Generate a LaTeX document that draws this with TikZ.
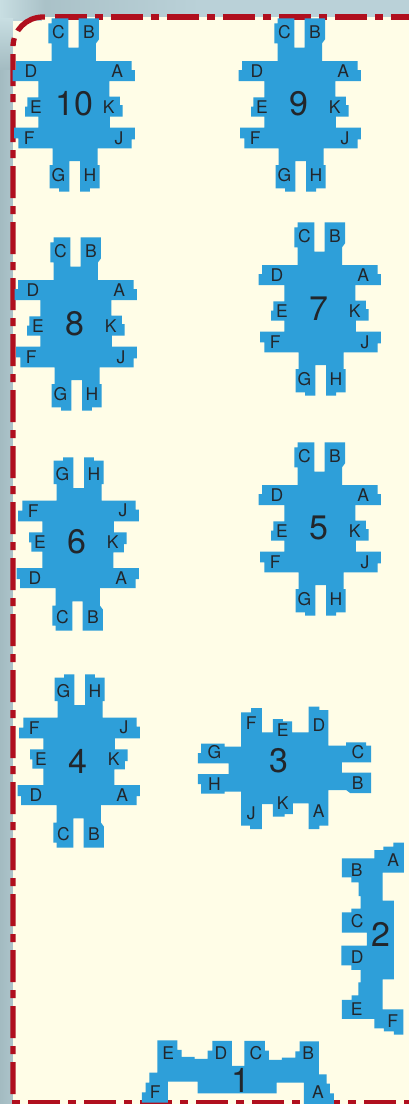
\documentclass[tikz,border=0pt]{standalone}
\usepackage{fontspec}
\setmainfont{TeX Gyre Heros}
\definecolor{tablecolor}{HTML}{2E9FD9}
\definecolor{floorcolor}{HTML}{FFFDE7}
\definecolor{wallcolor}{HTML}{B00F1E}
\definecolor{textcolor}{HTML}{22262B}
\definecolor{outercolor}{HTML}{BAD1D8}
\definecolor{outerdark}{HTML}{A3BBC1}
\definecolor{outerlight}{HTML}{C8DEE2}
\tikzset{
    tableshape/.style={fill=tablecolor, draw=none},
    seat/.style={inner sep=0pt, text=textcolor, font=\fontsize{17.5}{17.5}\selectfont},
    tablenum/.style={inner sep=0pt, text=textcolor, font=\fontsize{34}{34}\selectfont},
    wall/.style={draw=wallcolor, line width=5.3pt, dash pattern=on 32pt off 8pt on 8pt off 8pt},
}
% one table with ten seats: name, centre, how it is turned
\newcommand{\tennertable}[3]{
    \begin{scope}[shift={(#2)}, #3, x=0.3333pt, y=-0.3333pt]
        \fill[tableshape] (-77,-185) -- (-77,-245) -- (-67,-245) -- (-67,-260) -- (-17,-260) -- (-17,-172)
            -- (14,-172) -- (14,-260) -- (75,-260) -- (75,-197) -- (66,-185) -- (66,-132)
            -- (173,-132) -- (173,-105) -- (183,-105) -- (183,-72) -- (106,-72)
            -- (106,-25) -- (138,-25) -- (138,0) -- (146,0) -- (146,35) -- (108,35) -- (108,68)
            -- (183,68) -- (183,103) -- (173,103) -- (173,130) -- (71,130) -- (71,180)
            -- (77,180) -- (77,250) -- (48,250) -- (48,260) -- (18,260) -- (18,168)
            -- (-14,168) -- (-14,260) -- (-45,260) -- (-45,250) -- (-73,250) -- (-73,180) -- (-64,180) -- (-64,130)
            -- (-167,130) -- (-167,100) -- (-180,100) -- (-180,68) -- (-107,68)
            -- (-107,35) -- (-147,35) -- (-147,5) -- (-140,5) -- (-140,-23) -- (-107,-23) -- (-107,-72)
            -- (-184,-72) -- (-184,-105) -- (-174,-105) -- (-174,-132) -- (-67,-132) -- (-67,-185) -- cycle;
        \foreach \seatname/\seatx/\seaty in {A/130/-103, B/45/-220, C/-47/-220, D/-129/-103, E/-114/5,
            F/-134/100, G/-47/210, H/48/210, J/135/100, K/104/5}
            \node[seat] (#1\seatname) at (\seatx,\seaty) {\seatname};
    \end{scope}
}
\begin{document}
\begin{tikzpicture}[x=1pt, y=-1pt]
    \useasboundingbox (0,0) rectangle (409,1104);
    % outside of the room
    \fill[outercolor] (0,0) rectangle (409,1104);
    \shade[left color=outerlight, right color=outerdark!70!outercolor] (0,0) rectangle (45,18);
    \shade[left color=outerdark!70!outercolor, right color=outercolor] (45,0) rectangle (200,18);
    \shade[top color=outerlight, bottom color=outerdark] (0,18) rectangle (13,70);
    \shade[left color=outerdark, right color=outerdark!60!outercolor] (0,70) rectangle (13,1104);
    % floor
    \fill[floorcolor] (13,21) -- (42,21) -- (42,17) -- (409,17) -- (409,1104) -- (13,1104) -- cycle;
    % wall
    \draw[wall] (13,1094) -- (13,47) .. controls (13,30.4) and (26.4,17) .. (43,17) -- (47,17);
    \draw[wall] (55,17) -- (409,17);
    \draw[wall, dash phase=40pt] (12,1103) -- (409,1103);
    % tables
    \tennertable{ten}{74,105}{}
    \tennertable{nine}{300,105}{}
    \tennertable{eight}{76,324}{}
    \tennertable{seven}{320,309}{}
    \tennertable{six}{78,544}{yscale=-1}
    \tennertable{five}{320,529}{}
    \tennertable{four}{79,761}{yscale=-1}
    \tennertable{three}{284.5,768}{rotate=-90}
    \node[tablenum] (numten) at (74,104) {10};
    \node[tablenum] (numnine) at (299,104) {9};
    \node[tablenum] (numeight) at (75,324) {8};
    \node[tablenum] (numseven) at (319,309) {7};
    \node[tablenum] (numsix) at (77,542) {6};
    \node[tablenum] (numfive) at (319,528) {5};
    \node[tablenum] (numfour) at (78,761) {4};
    \node[tablenum] (numthree) at (279,761) {3};
    % table 2
    \begin{scope}[shift={(130,840)}, x=0.3333pt, y=-0.3333pt]
        \fill[tableshape] (636,55) -- (733,55) -- (733,30) -- (760,30) -- (760,20) -- (790,20) -- (790,8)
            -- (822,8) -- (822,98) -- (758,98) -- (758,182) -- (792,182) -- (792,418) -- (758,418) -- (758,508)
            -- (820,508) -- (820,584) -- (792,584) -- (792,574) -- (762,574) -- (762,565) -- (733,565) -- (733,537)
            -- (636,537) -- (636,480) -- (665,480) -- (665,466) -- (685,466) -- (685,427) -- (692,427) -- (692,390)
            -- (664,390) -- (664,376) -- (634,376) -- (634,317) -- (711,317) -- (711,278) -- (636,278) -- (636,217)
            -- (664,217) -- (664,206) -- (692,206) -- (692,168) -- (686,168) -- (686,127) -- (664,127) -- (664,112)
            -- (636,112) -- cycle;
        \node[seat] (twoA) at (790,60) {A};
        \node[seat] (twoB) at (680,90) {B};
        \node[seat] (twoC) at (682,243) {C};
        \node[seat] (twoD) at (682,352) {D};
        \node[seat] (twoE) at (680,508) {E};
        \node[seat] (twoF) at (788,542) {F};
        \node[tablenum] (numtwo) at (752,282) {2};
    \end{scope}
    % table 1
    \begin{scope}[shift={(130,840)}, x=0.3333pt, y=-0.3333pt]
        \fill[tableshape] (82,601) -- (142,601) -- (142,630) -- (155,630) -- (155,651) -- (194,651) -- (194,657)
            -- (233,657) -- (233,632) -- (247,632) -- (247,603) -- (306,603) -- (306,678) -- (343,678) -- (343,603)
            -- (405,603) -- (405,632) -- (417,632) -- (417,660) -- (456,660) -- (456,653) -- (496,653) -- (496,634)
            -- (509,634) -- (509,604) -- (567,604) -- (567,703) -- (590,703) -- (590,731) -- (600,731) -- (600,760)
            -- (612,760) -- (612,792) -- (522,792) -- (522,728) -- (440,728) -- (440,760) -- (203,760) -- (203,725)
            -- (114,725) -- (114,788) -- (36,788) -- (36,757) -- (47,757) -- (47,728) -- (58,728) -- (58,698)
            -- (82,698) -- cycle;
        \node[seat] (oneA) at (564,757) {A};
        \node[seat] (oneB) at (535,640) {B};
        \node[seat] (oneC) at (378,640) {C};
        \node[seat] (oneD) at (273,640) {D};
        \node[seat] (oneE) at (115,640) {E};
        \node[seat] (oneF) at (76,757) {F};
        \node[tablenum] (numone) at (332,720) {1};
    \end{scope}
\end{tikzpicture}
\end{document}
